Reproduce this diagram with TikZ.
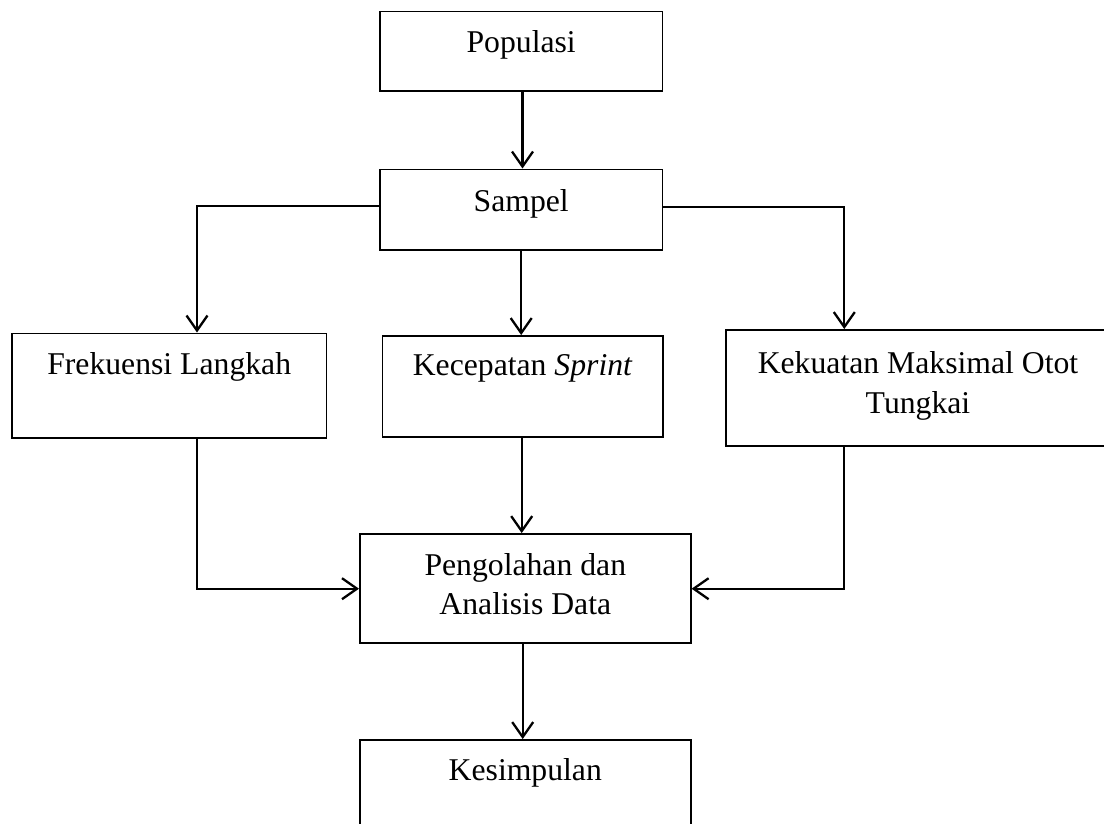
\documentclass[tikz,border=0pt]{standalone}
\usepackage{fontspec}
\setmainfont{Liberation Serif}
\usetikzlibrary{arrows.meta}
\begin{document}
\begin{tikzpicture}[x=1pt,y=-1pt,
  box/.style={draw=black,line width=1.9pt,rectangle,inner sep=0pt},
  lbl/.style={inner sep=0pt,anchor=base,align=center,font=\fontsize{31.7}{39.5}\selectfont},
  conn/.style={line width=2.3pt,-{Straight Barb[length=15pt,width=21pt,line width=2.3pt]}}]
\useasboundingbox (0,0) rectangle (1104,823);
\clip (0,0) rectangle (1104,823);
% boxes
\node[box,minimum width=282.5pt,minimum height=79.5pt] (pop) at (521.2,51.2) {};
\node[box,minimum width=282.5pt,minimum height=80.5pt] (sam) at (521.2,209.7) {};
\node[box,minimum width=314.5pt,minimum height=104.5pt] (fre) at (169.2,385.7) {};
\node[box,minimum width=280.5pt,minimum height=101pt] (kec) at (522.7,386.5) {};
\node[box,minimum width=384pt,minimum height=116pt] (kek) at (918,388) {};
\node[box,minimum width=330.7pt,minimum height=109.3pt] (pen) at (525.3,588.7) {};
\node[box,minimum width=330.7pt,minimum height=140pt] (kes) at (525.3,810) {};
% texts
\node[lbl] (popt) at (521.2,52.5) {Populasi};
\node[lbl] (samt) at (521.2,211) {Sampel};
\node[lbl] (fret) at (169.2,374.5) {Frekuensi Langkah};
\node[lbl] (kect) at (522.7,375.5) {Kecepatan \textit{Sprint}};
\node[lbl] (kekt) at (918,413) {Kekuatan Maksimal Otot\\Tungkai};
\node[lbl] (pent) at (525.3,614.5) {Pengolahan dan\\Analisis Data};
\node[lbl] (kest) at (525.3,780.5) {Kesimpulan};
% connectors
\draw[conn] ([xshift=1.3pt]pop.south) -- ([xshift=1.3pt]sam.north);
\draw[conn] ([yshift=3.8pt]sam.west) -| ([xshift=27.8pt]fre.north);
\draw[conn] ([yshift=3pt]sam.east) -| ([xshift=-73.7pt]kek.north);
\draw[conn] (sam.south) -- (sam.south |- kec.north);
\draw[conn] ([xshift=27.5pt]fre.south) |- (pen.west);
\draw[conn] ([xshift=-74pt]kek.south) |- (pen.east);
\draw[conn] ([xshift=-1pt]kec.south) -- ([xshift=-1pt]kec.south |- pen.north);
\draw[conn] ([xshift=-2.6pt]pen.south) -- ([xshift=-2.6pt]pen.south |- kes.north);
\end{tikzpicture}
\end{document}
